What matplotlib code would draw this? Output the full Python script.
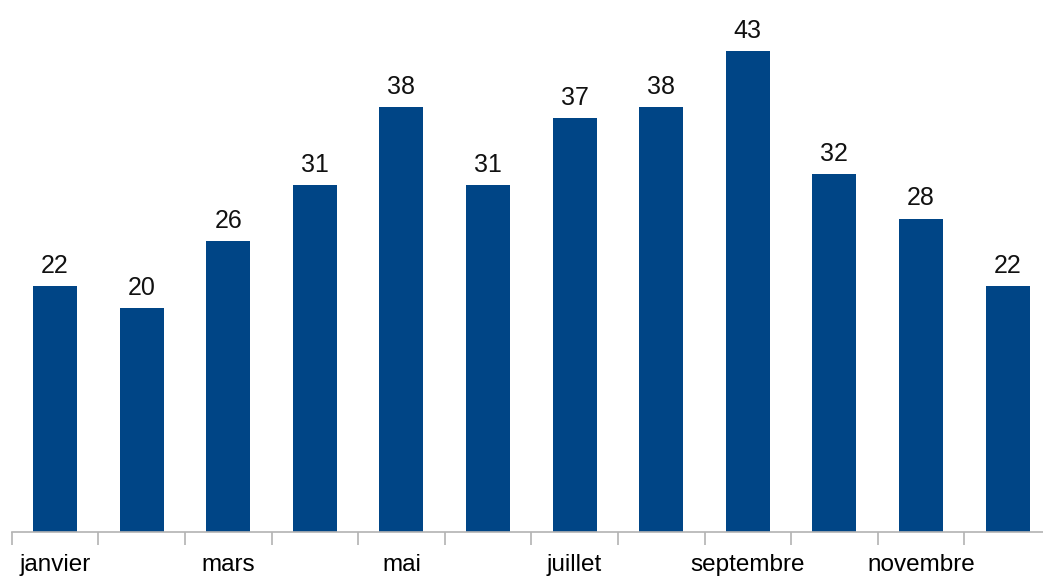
import matplotlib
matplotlib.use("Agg")
import matplotlib.pyplot as plt
import numpy as np

mois = ["janvier", "février", "mars", "avril", "mai", "juin", "juillet",
        "août", "septembre", "octobre", "novembre", "décembre"]
valeurs = [22, 20, 26, 31, 38, 31, 37, 38, 43, 32, 28, 22]

plt.rcParams['font.family'] = ['Liberation Sans', 'DejaVu Sans']

fig = plt.figure(figsize=(10.43, 5.78), dpi=100)
# axes extend slightly beyond the right edge like the original
ax = fig.add_axes([11.7 / 1043, 46 / 578, 1039.2 / 1043, 532 / 578])

x = np.arange(len(mois))
bars = ax.bar(x, valeurs, width=0.51, color="#004586")
ax.bar_label(bars, labels=[str(v) for v in valeurs], padding=6, fontsize=18, color="#111111")

ax.set_xlim(-0.5, len(mois) - 0.5)
ax.set_ylim(0, 47.55)

for s in ["top", "right", "left"]:
    ax.spines[s].set_visible(False)
ax.spines["bottom"].set_color("#b3b3b3")
ax.spines["bottom"].set_linewidth(1.2)
ax.set_yticks([])

ax.set_xticks(x[::2])
ax.set_xticklabels(mois[::2], fontsize=17.5)
ax.tick_params(axis="x", which="major", length=0, pad=16)
ax.set_xticks(np.arange(len(mois) + 1) - 0.5, minor=True)
ax.tick_params(axis="x", which="minor", length=9, color="#b3b3b3", width=1.2)

fig.savefig("out.png", dpi=100)
